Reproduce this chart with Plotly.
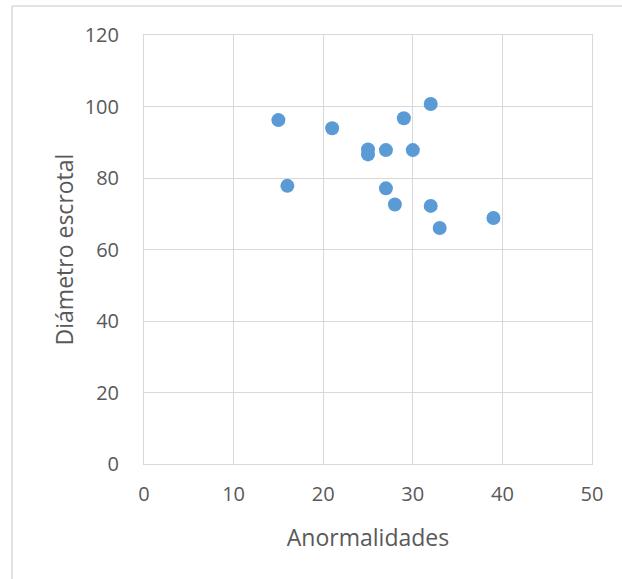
import plotly.graph_objects as go

anormalidades = [15, 21, 25, 25, 27, 30, 29, 32, 16, 27, 28, 32, 33, 39]
diametro = [96.2, 93.9, 88.0, 86.6, 87.8, 87.8, 96.7, 100.7, 77.8, 77.1, 72.6, 72.2, 66.0, 68.8]

x_ticks = [0, 10, 20, 30, 40, 50]
y_ticks = [0, 20, 40, 60, 80, 100, 120]

W, H = 622, 579
L, R, T, B = 144, 30, 35, 115
pw, ph = W - L - R, H - T - B

txt = "#595959"
grid = "#D9D9D9"
font_family = "'Open Sans', sans-serif"
tick_size = 20
title_size = 23

fig = go.Figure()
fig.add_trace(go.Scatter(
    x=anormalidades, y=diametro, mode="markers",
    marker=dict(color="#5B9BD5", size=14, line=dict(width=0)),
    showlegend=False,
))

axis_common = dict(
    showgrid=True, gridcolor=grid, gridwidth=1,
    showline=True, linecolor=grid, linewidth=1, mirror=True,
    zeroline=False, ticks="",
    tickfont=dict(family=font_family, size=tick_size, color=txt),
)

fig.update_xaxes(range=[0, 50], tickvals=x_ticks, ticktext=[str(v) for v in x_ticks],
                 title=dict(text="Anormalidades", font=dict(family=font_family, size=title_size, color=txt), standoff=23),
                 ticklabelstandoff=12, **axis_common)
fig.update_yaxes(range=[0, 120], tickvals=y_ticks, ticktext=[str(v) for v in y_ticks],
                 title=dict(text="Diámetro escrotal", font=dict(family=font_family, size=title_size, color=txt), standoff=4),
                 ticklabelstandoff=20, **axis_common)

# chart-area frame (partially cropped in the reference)
fx0 = (12 - L) / pw
fy0 = 1 + (T - 6) / ph
fig.add_shape(type="line", xref="paper", yref="paper", x0=fx0, x1=(W + 5 - L) / pw, y0=fy0, y1=fy0,
              line=dict(color=grid, width=1.5))
fig.add_shape(type="line", xref="paper", yref="paper", x0=fx0, x1=fx0, y0=fy0, y1=-(B + 5) / ph,
              line=dict(color=grid, width=1.5))

fig.update_layout(
    width=W, height=H,
    margin=dict(l=L, r=R, t=T, b=B),
    paper_bgcolor="white", plot_bgcolor="white",
    font=dict(family=font_family, color=txt),
)

fig.write_html("out.html")
